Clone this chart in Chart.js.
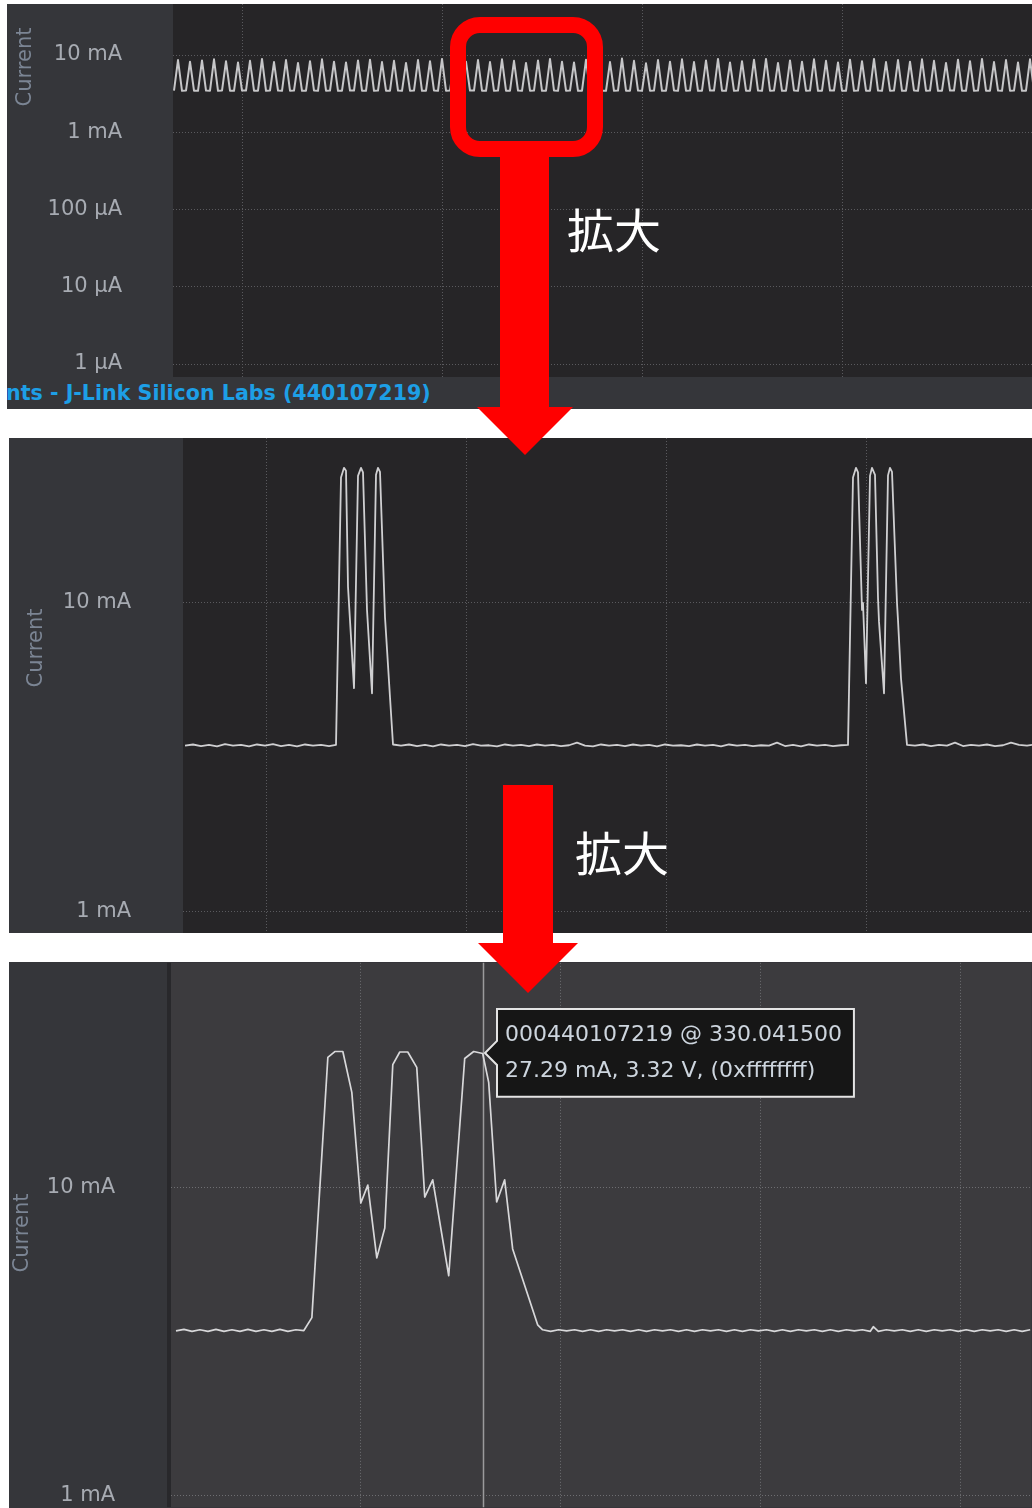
<!DOCTYPE html>
<html>
<head>
<meta charset="utf-8">
<title>Current</title>
<script src="https://cdn.jsdelivr.net/npm/chart.js@4.4.1/dist/chart.umd.min.js"></script>
<style>
  html, body { margin: 0; padding: 0; background: #ffffff; }
  #stage { position: relative; width: 1032px; height: 1508px; overflow: hidden; background: #ffffff; }
  .panel { position: absolute; background: #35363a; overflow: hidden; }
  .panel canvas { position: absolute; left: 0; top: 0; }
  #p1 { left: 7px; top: 4px; width: 1025px; height: 405px; }
  #p2 { left: 9px; top: 438px; width: 1023px; height: 495px; }
  #p3 { left: 9px; top: 962px; width: 1023px; height: 546px; }
  #status { position: absolute; left: -1px; top: 377px; height: 32px; line-height: 32px;
            font: bold 20.6px "DejaVu Sans", sans-serif; color: #1d9fe6; white-space: nowrap; }
  .zoom-label { position: absolute; font: 47px "Noto Sans CJK JP", sans-serif; color: #ffffff; line-height: 1; white-space: nowrap; }
  #overlay { position: absolute; left: 0; top: 0; }
</style>
</head>
<body>
<div id="stage">
  <div class="panel" id="p1">
    <canvas id="c1" width="1025" height="373"></canvas>
    <div id="status">nts - J-Link Silicon Labs (440107219)</div>
  </div>
  <div class="panel" id="p2"><canvas id="c2" width="1023" height="495"></canvas></div>
  <div class="panel" id="p3"><canvas id="c3" width="1023" height="546"></canvas></div>

  <svg id="overlay" width="1032" height="1508" xmlns="http://www.w3.org/2000/svg">
    <rect x="458" y="25" width="137" height="124" rx="22" ry="22" fill="none" stroke="#ff0000" stroke-width="16"/>
    <rect x="500" y="149" width="49" height="259" fill="#ff0000"/>
    <polygon points="477,407 573,407 525,455" fill="#ff0000"/>
    <rect x="503" y="785" width="50" height="159" fill="#ff0000"/>
    <polygon points="478,943 578,943 528,993" fill="#ff0000"/>
  </svg>
  <div class="zoom-label" style="left:567px; top:204px;">拡大</div>
  <div class="zoom-label" style="left:575px; top:827px;">拡大</div>
</div>

<script>
// ---- Long capture: current in mA, one value per sample ----
const i1 = [
  3.46,8.6,3.44, 3.47,8.2,3.45, 3.44,8.5,3.46, 3.45,8.8,3.44, 3.47,8.3,3.45, 3.44,8.0,3.46,
  3.46,8.4,3.45, 3.45,8.9,3.44, 3.47,8.1,3.46, 3.44,8.6,3.45, 3.46,7.9,3.44, 3.45,8.3,3.47,
  3.44,8.8,3.45, 3.46,8.2,3.44, 3.45,8.0,3.46, 3.47,8.5,3.45, 3.44,8.7,3.44, 3.46,8.1,3.45,
  3.45,8.4,3.46, 3.44,7.9,3.45, 3.46,8.6,3.44, 3.45,8.3,3.47, 3.44,8.9,3.45, 3.46,8.0,3.44,
  3.45,8.2,3.46, 3.47,8.6,3.45, 3.44,8.1,3.44, 3.46,8.8,3.45, 3.45,8.4,3.46, 3.44,7.9,3.45,
  3.46,8.5,3.44, 3.45,8.9,3.47, 3.44,8.2,3.45, 3.46,8.0,3.44, 3.45,8.7,3.46, 3.47,8.3,3.45,
  3.44,8.1,3.44, 3.46,9.0,3.45, 3.45,8.4,3.46, 3.44,7.8,3.45, 3.46,8.6,3.44, 3.45,8.2,3.47,
  3.44,8.8,3.45, 3.46,8.1,3.44, 3.45,8.5,3.46, 3.47,8.9,3.45, 3.44,8.0,3.44, 3.46,8.3,3.45,
  3.45,8.7,3.46, 3.44,8.9,3.45, 3.46,7.9,3.44, 3.45,8.5,3.47, 3.44,8.2,3.45, 3.46,8.8,3.44,
  3.45,8.4,3.46, 3.47,8.0,3.45, 3.44,8.7,3.44, 3.46,8.3,3.45, 3.45,8.9,3.46, 3.44,8.1,3.45,
  3.46,8.6,3.44, 3.45,8.2,3.47, 3.44,8.8,3.45, 3.46,8.4,3.44, 3.45,7.9,3.46, 3.47,8.7,3.45,
  3.44,8.3,3.44, 3.46,8.9,3.45, 3.45,8.1,3.46, 3.44,8.6,3.45, 3.46,8.0,3.44, 3.45,8.8,3.47
];

// ---- Two advertising events: time (ms) and current (mA) ----
const t2 = [
  -1.62,-1.46,-1.30,-1.14,-0.98,-0.82,-0.66,-0.50,-0.34,-0.18,-0.02,0.14,0.30,0.46,0.62,0.78,0.94,1.10,1.26,1.40,
  1.50,1.56,1.60,1.64,1.76,1.84,1.90,1.94,2.02,2.12,2.20,2.24,2.28,2.38,2.48,2.54,
  2.70,2.86,3.02,3.18,3.34,3.50,3.66,3.82,3.98,4.14,4.30,4.46,4.62,4.78,4.94,5.10,5.26,5.42,5.58,5.74,
  5.90,6.06,6.22,6.38,6.54,6.70,6.86,7.02,7.18,7.34,7.50,7.66,7.82,7.98,8.14,8.30,8.46,8.62,8.78,8.94,
  9.10,9.26,9.42,9.58,9.74,9.90,10.06,10.22,10.38,10.54,10.70,10.86,11.02,11.18,11.34,11.50,11.64,
  11.74,11.80,11.84,11.92,11.94,12.00,12.08,12.12,12.18,12.24,12.26,12.36,12.44,12.48,12.52,12.62,12.64,12.70,12.82,
  12.98,13.14,13.30,13.46,13.62,13.78,13.94,14.10,14.26,14.42,14.58,14.74,14.90,15.06,15.22,15.32
];
const i2 = [
  3.45,3.48,3.44,3.47,3.43,3.49,3.45,3.47,3.43,3.48,3.45,3.49,3.44,3.47,3.43,3.48,3.45,3.47,3.44,3.47,
  25.5,27.4,26.8,11.3,5.3,25.8,27.4,26.5,9.5,5.1,26.0,27.4,26.6,9.0,4.95,3.48,
  3.45,3.48,3.44,3.47,3.43,3.48,3.45,3.47,3.44,3.49,3.45,3.46,3.43,3.48,3.45,3.47,3.44,3.48,3.45,3.47,
  3.44,3.46,3.53,3.45,3.43,3.48,3.45,3.47,3.44,3.48,3.45,3.47,3.43,3.48,3.45,3.46,3.44,3.48,3.45,3.47,
  3.43,3.48,3.45,3.47,3.44,3.46,3.45,3.53,3.44,3.47,3.43,3.48,3.45,3.47,3.44,3.46,3.47,
  25.5,27.4,26.5,9.5,10.0,5.5,25.8,27.4,26.0,10.4,8.7,5.1,25.9,27.4,26.6,10.0,8.8,5.7,3.47,
  3.45,3.48,3.44,3.47,3.45,3.53,3.44,3.47,3.45,3.48,3.44,3.46,3.53,3.47,3.45,3.47
];

// ---- One advertising event: time (ms) and current (mA) ----
const t3 = [
  -0.925,-0.885,-0.845,-0.805,-0.765,-0.725,-0.685,-0.645,-0.605,-0.565,-0.525,-0.485,-0.445,-0.405,-0.365,-0.325,-0.285,
  -0.245,-0.165,-0.130,-0.090,-0.045,0.000,0.035,0.080,0.120,0.160,0.195,0.235,0.280,0.320,0.360,0.440,0.520,0.565,0.610,
  0.640,0.680,0.720,0.760,0.885,0.910,
  0.95,0.99,1.03,1.07,1.11,1.15,1.19,1.23,1.27,1.31,1.35,1.39,1.43,1.47,1.51,1.55,1.59,1.63,1.67,1.71,
  1.75,1.79,1.83,1.87,1.91,1.95,1.99,2.03,2.07,2.11,2.15,2.19,2.23,2.27,2.31,2.35,2.39,2.43,2.47,2.51,
  2.55,2.565,2.59,2.63,2.67,2.71,2.75,2.79,2.83,2.87,2.91,2.95,2.99,3.03,3.07,3.11,3.15,3.19,3.23,3.27,
  3.31,3.35
];
const i3 = [
  3.42,3.46,3.41,3.45,3.41,3.46,3.41,3.45,3.41,3.46,3.41,3.45,3.41,3.46,3.41,3.45,3.43,
  3.78,26.5,27.7,27.7,20.4,8.91,10.19,5.91,7.39,25.1,27.6,27.6,24.6,9.32,10.6,5.17,26.3,27.7,27.29,
  22.0,8.98,10.6,6.32,3.58,3.45,
  3.41,3.45,3.42,3.45,3.41,3.45,3.41,3.45,3.42,3.45,3.41,3.45,3.41,3.45,3.42,3.45,3.41,3.45,3.41,3.45,
  3.42,3.45,3.41,3.45,3.41,3.45,3.42,3.45,3.41,3.45,3.41,3.45,3.42,3.45,3.41,3.45,3.41,3.45,3.42,3.45,
  3.41,3.53,3.41,3.45,3.42,3.45,3.41,3.45,3.41,3.45,3.42,3.45,3.41,3.45,3.41,3.45,3.42,3.45,3.41,3.45,
  3.41,3.45
];

// ---- Axis ticks ----
const ticksWide = [0.001, 0.01, 0.1, 1, 10];
const tickLabelsWide = ['1 µA', '10 µA', '100 µA', '1 mA', '10 mA'];
const ticksNarrow = [1, 10];
const tickLabelsNarrow = ['1 mA', '10 mA'];
const gridX1 = [17, 67, 117, 167];   // sample numbers
const gridX2 = [0, 4, 8, 12];        // ms
const gridX3 = [0, 1, 2, 3];         // ms

// ---- Cursor readout ----
const cursorSerial = '000440107219';
const cursorTimestamp = 330.0415;
const cursorVoltage = 3.32;
const cursorFlags = '0xffffffff';
const cursorTime = 0.610;

const FONT = '"DejaVu Sans", sans-serif';

// Fills the plot area and the frame strip at its left edge
const plotBgPlugin = {
  id: 'plotBg',
  beforeDraw(chart, args, opts) {
    const { ctx, chartArea: a } = chart;
    ctx.save();
    ctx.fillStyle = opts.color;
    ctx.fillRect(a.left, a.top, a.right - a.left, a.bottom - a.top);
    if (opts.edgeWidth) {
      ctx.fillStyle = opts.edgeColor;
      ctx.fillRect(a.left - opts.edgeWidth, a.top, opts.edgeWidth, a.bottom - a.top);
    }
    ctx.restore();
  }
};

// Vertical axis caption ("Current")
const captionPlugin = {
  id: 'axisCaption',
  afterDraw(chart, args, opts) {
    const ctx = chart.ctx;
    ctx.save();
    ctx.translate(opts.x, opts.y);
    ctx.rotate(-Math.PI / 2);
    ctx.font = '21px ' + FONT;
    ctx.fillStyle = '#7b8594';
    ctx.textAlign = 'center';
    ctx.textBaseline = 'middle';
    ctx.fillText(opts.text, 0, 0);
    ctx.restore();
  }
};

// Measurement cursor line
const cursorPlugin = {
  id: 'cursorLine',
  beforeDatasetsDraw(chart, args, opts) {
    if (opts.value === undefined) return;
    const { ctx, chartArea: a } = chart;
    const x = Math.round(chart.scales.x.getPixelForValue(opts.value)) + 0.5;
    ctx.save();
    ctx.strokeStyle = '#9a9a9c';
    ctx.lineWidth = 1.5;
    ctx.beginPath();
    ctx.moveTo(x, a.top);
    ctx.lineTo(x, a.bottom);
    ctx.stroke();
    ctx.restore();
  }
};

function makeChart(id, c) {
  const points = c.xs.map((x, k) => ({ x: x, y: c.ys[k] }));
  return new Chart(document.getElementById(id), {
    type: 'line',
    data: {
      datasets: [{
        data: points,
        borderColor: c.lineColor,
        borderWidth: c.lineWidth,
        borderJoinStyle: 'round',
        pointRadius: 0,
        pointHoverRadius: 0,
        tension: 0,
        fill: false
      }]
    },
    plugins: [plotBgPlugin, captionPlugin, cursorPlugin],
    options: {
      responsive: false,
      devicePixelRatio: 1,
      animation: false,
      events: [],
      layout: { padding: 0 },
      plugins: {
        legend: { display: false },
        tooltip: c.tooltip || { enabled: false },
        plotBg: { color: c.plotBg, edgeWidth: c.edgeWidth || 0, edgeColor: '#28282b' },
        axisCaption: { text: 'Current', x: c.captionX, y: c.captionY },
        cursorLine: { value: c.cursor }
      },
      scales: {
        x: {
          type: 'linear',
          min: c.xMin,
          max: c.xMax,
          afterBuildTicks: s => { s.ticks = c.xGrid.map(v => ({ value: v })); },
          afterFit: s => { s.height = 0; s.paddingLeft = 0; s.paddingRight = 0; },
          ticks: { display: false },
          grid: { color: c.gridColor, lineWidth: 1, drawTicks: false },
          border: { display: false, dash: [1, 2] }
        },
        y: {
          type: 'logarithmic',
          position: 'left',
          min: c.yMin,
          max: c.yMax,
          afterBuildTicks: s => { s.ticks = c.yTicks.map(v => ({ value: v })); },
          afterFit: s => { s.width = c.axisWidth; s.paddingTop = 0; s.paddingBottom = 0; },
          ticks: {
            color: '#a7abb2',
            font: { family: FONT, size: 21 },
            padding: c.labelPad,
            labelOffset: c.labelShift,
            autoSkip: false,
            callback: v => {
              const k = c.yTicks.indexOf(v);
              return k >= 0 ? c.yLabels[k] : '';
            }
          },
          grid: { color: c.gridColor, lineWidth: 1, drawTicks: false },
          border: { display: false, dash: [1, 2] }
        }
      }
    }
  });
}

// Long capture
makeChart('c1', {
  xs: i1.map((v, k) => k), ys: i1,
  xMin: -0.25, xMax: 214.5, xGrid: gridX1,
  yMin: 0.000679, yMax: 45.73, yTicks: ticksWide, yLabels: tickLabelsWide,
  axisWidth: 166, labelPad: 51, labelShift: 0,
  plotBg: '#262527', gridColor: '#5a5a5e',
  lineColor: '#c6c6c8', lineWidth: 2,
  captionX: 19, captionY: 63
});

// Two events
makeChart('c2', {
  xs: t2, ys: i2,
  xMin: -1.66, xMax: 15.32, xGrid: gridX2,
  yMin: 0.853, yMax: 34.23, yTicks: ticksNarrow, yLabels: tickLabelsNarrow,
  axisWidth: 174, labelPad: 52, labelShift: 0,
  plotBg: '#262527', gridColor: '#5a5a5e',
  lineColor: '#cfcfd1', lineWidth: 1.8,
  captionX: 28, captionY: 210
});

// One event with cursor readout
const chart3 = makeChart('c3', {
  xs: t3, ys: i3,
  xMin: -0.95, xMax: 3.355, xGrid: gridX3,
  yMin: 0.9144, yMax: 53.8, yTicks: ticksNarrow, yLabels: tickLabelsNarrow,
  axisWidth: 162, labelPad: 56, labelShift: 0,
  plotBg: '#3c3b3e', gridColor: '#6e6e72', edgeWidth: 4,
  lineColor: '#d8d8da', lineWidth: 1.7,
  captionX: 14, captionY: 271,
  cursor: cursorTime,
  tooltip: {
    enabled: true,
    xAlign: 'left',
    yAlign: 'center',
    backgroundColor: '#161616',
    borderColor: '#e4e4e4',
    borderWidth: 2,
    cornerRadius: 0,
    caretSize: 12,
    caretPadding: 2,
    displayColors: false,
    padding: { top: 13, bottom: 12, left: 8, right: 12 },
    titleFont: { family: FONT, size: 22, weight: 'normal' },
    bodyFont: { family: FONT, size: 22 },
    titleColor: '#cdd5de',
    bodyColor: '#cdd5de',
    titleMarginBottom: 10,
    callbacks: {
      title: () => cursorSerial + ' @ ' + cursorTimestamp.toFixed(6),
      label: ctx => ctx.parsed.y.toFixed(2) + ' mA, ' + cursorVoltage.toFixed(2) + ' V, (' + cursorFlags + ')'
    }
  }
});

const cursorIndex = t3.indexOf(cursorTime);
chart3.tooltip.setActiveElements([{ datasetIndex: 0, index: cursorIndex }], { x: 0, y: 0 });
chart3.update();
</script>
</body>
</html>
